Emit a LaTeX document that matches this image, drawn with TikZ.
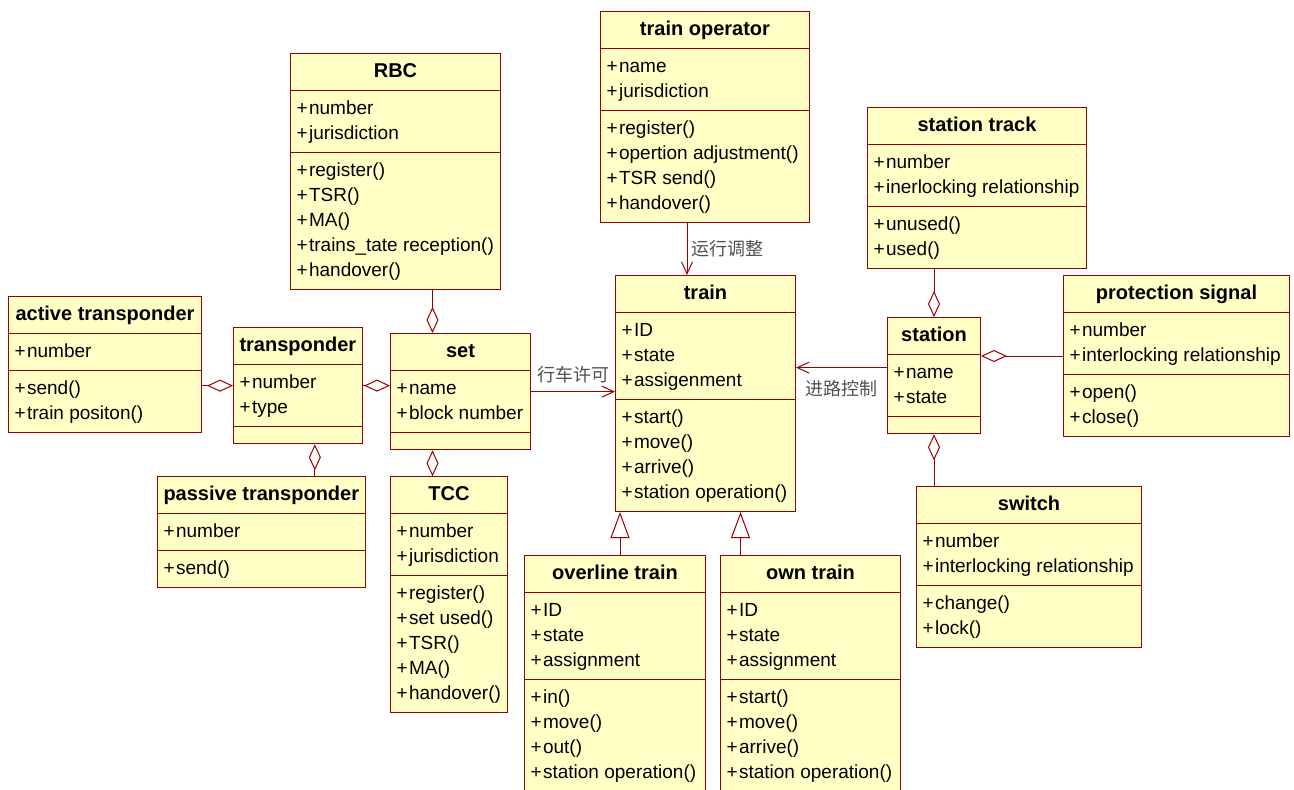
\documentclass[tikz,border=0pt]{standalone}
\usepackage{fontspec}
\setmainfont{Liberation Sans}
\newfontfamily\cjkfont{Noto Sans CJK SC}
\usetikzlibrary{shapes.multipart, arrows.meta}
\definecolor{roseline}{HTML}{990000}
\definecolor{rosefill}{HTML}{FFFFC6}
\definecolor{notegray}{HTML}{505050}
\newcommand{\pl}{+\kern1.5pt}
\newcommand{\ttl}[1]{\strut{\fontsize{20}{25}\selectfont\bfseries #1}}

\begin{document}
\begin{tikzpicture}[
		x=1pt, y=-1pt,
		umlclass/.style={rectangle split, rectangle split parts=3,
			rectangle split part align={center,left,left},
			rectangle split ignore empty parts=false,
			rectangle split empty part height=0pt,
			rectangle split empty part depth=0pt,
			draw=roseline, fill=rosefill, line width=1pt,
			inner xsep=6pt, inner ysep=5.5pt, anchor=north west, align=left,
			font=\fontsize{19}{25}\selectfont},
		agg/.style={draw=roseline, line width=1pt, {Diamond[open,length=26pt,width=12pt]}-},
		assoc/.style={draw=roseline, line width=1pt, -{Straight Barb[length=12pt,width=11pt]}},
		inherit/.style={draw=roseline, line width=1pt, -{Triangle[open,length=26pt,width=19pt]}},
		lbl/.style={font=\cjkfont\fontsize{18}{20}\selectfont, text=notegray, inner sep=1pt}
	]

	\useasboundingbox (0,0) rectangle (1294,790);

	\node[umlclass, minimum width=210pt] (rbc) at (290,53) {\ttl{RBC}
		\nodepart{two}\strut\pl number\\\pl jurisdiction\strut
		\nodepart{three}\strut\pl register()\\\pl TSR()\\\pl MA()\\\pl trains\_tate reception()\\\pl handover()\strut};
	\node[umlclass, minimum width=209pt] (operator) at (600,11) {\ttl{train operator}
		\nodepart{two}\strut\pl name\\\pl jurisdiction\strut
		\nodepart{three}\strut\pl register()\\\pl opertion adjustment()\\\pl TSR send()\\\pl handover()\strut};
	\node[umlclass, minimum width=219pt] (track) at (867,107) {\ttl{station track}
		\nodepart{two}\strut\pl number\\\pl inerlocking relationship\strut
		\nodepart{three}\strut\pl unused()\\\pl used()\strut};
	\node[umlclass, minimum width=226pt] (signal) at (1063,275) {\ttl{protection signal}
		\nodepart{two}\strut\pl number\\\pl interlocking relationship\strut
		\nodepart{three}\strut\pl open()\\\pl close()\strut};
	\node[umlclass, minimum width=93pt] (station) at (887,317) {\ttl{station}
		\nodepart{two}\strut\pl name\\\pl state\strut
		\nodepart{three}};
	\node[umlclass, minimum width=180pt] (train) at (615,275) {\ttl{train}
		\nodepart{two}\strut\pl ID\\\pl state\\\pl assigenment\strut
		\nodepart{three}\strut\pl start()\\\pl move()\\\pl arrive()\\\pl station operation()\strut};
	\node[umlclass, minimum width=225pt] (switch) at (916,486) {\ttl{switch}
		\nodepart{two}\strut\pl number\\\pl interlocking relationship\strut
		\nodepart{three}\strut\pl change()\\\pl lock()\strut};
	\node[umlclass, minimum width=193pt] (active) at (8,296) {\ttl{active transponder}
		\nodepart{two}\strut\pl number\strut
		\nodepart{three}\strut\pl send()\\\pl train positon()\strut};
	\node[umlclass, minimum width=128pt] (transponder) at (233,327) {\ttl{transponder}
		\nodepart{two}\strut\pl number\\\pl type\strut
		\nodepart{three}};
	\node[umlclass, minimum width=140pt] (set) at (390,333) {\ttl{set}
		\nodepart{two}\strut\pl name\\\pl block number\strut
		\nodepart{three}};
	\node[umlclass, minimum width=205pt] (passive) at (157,476) {\ttl{passive transponder}
		\nodepart{two}\strut\pl number\strut
		\nodepart{three}\strut\pl send()\strut};
	\node[umlclass, minimum width=117pt] (tcc) at (390,476) {\ttl{TCC}
		\nodepart{two}\strut\pl number\\\pl jurisdiction\strut
		\nodepart{three}\strut\pl register()\\\pl set used()\\\pl TSR()\\\pl MA()\\\pl handover()\strut};
	\node[umlclass, minimum width=181pt] (overline) at (524,555) {\ttl{overline train}
		\nodepart{two}\strut\pl ID\\\pl state\\\pl assignment\strut
		\nodepart{three}\strut\pl in()\\\pl move()\\\pl out()\\\pl station operation()\strut};
	\node[umlclass, minimum width=180pt] (own) at (720,555) {\ttl{own train}
		\nodepart{two}\strut\pl ID\\\pl state\\\pl assignment\strut
		\nodepart{three}\strut\pl start()\\\pl move()\\\pl arrive()\\\pl station operation()\strut};

	\coordinate (setN) at ([xshift=-28pt]set.north);
	\coordinate (setS) at ([xshift=-28pt]set.south);
	\coordinate (trS) at ([xshift=17pt]transponder.south);
	\coordinate (opS) at ([xshift=-18pt]operator.south);
	\coordinate (stW) at ([yshift=8pt]station.west);
	\coordinate (ovN) at ([xshift=5pt]overline.north);
	\coordinate (owN) at ([xshift=-70pt]own.north);

	\draw[agg] (setN) -- (setN |- rbc.south);
	\draw[agg] (setS) -- (setS |- tcc.north);
	\draw[agg] (transponder.west) -- (transponder.west -| active.east);
	\draw[agg] (set.west |- transponder.east) -- (transponder.east);
	\draw[agg] (trS) -- (trS |- passive.north);
	\draw[agg] (station.north) -- (station.north |- track.south);
	\draw[agg] (station.east |- signal.west) -- (signal.west);
	\draw[agg] (station.south) -- (station.south |- switch.north);

	\draw[assoc] (set.east) -- (set.east -| train.west) node[lbl, midway, above=7pt] (permit) {行车许可};
	\draw[assoc] (opS) -- (opS |- train.north) node[lbl, midway, right=3pt] (adjust) {运行调整};
	\draw[assoc] (stW) -- (stW -| train.east) node[lbl, midway, below=11pt] (route) {进路控制};

	\draw[inherit] (ovN) -- (ovN |- train.south);
	\draw[inherit] (owN) -- (owN |- train.south);

\end{tikzpicture}
\end{document}
